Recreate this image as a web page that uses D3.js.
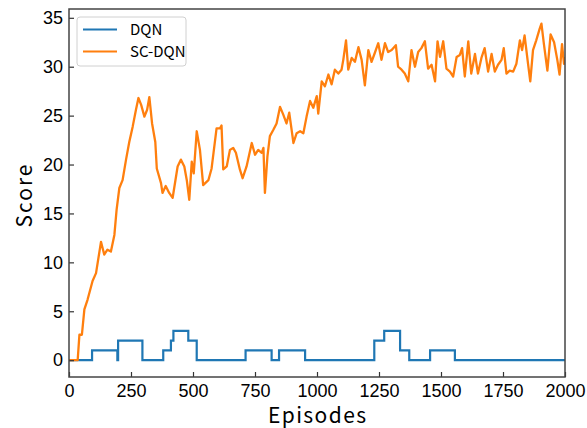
<!DOCTYPE html>
<html>
<head>
<meta charset="utf-8">
<script src="https://cdn.jsdelivr.net/npm/d3@7/dist/d3.min.js"></script>
<style>
	body { margin: 0; background: #fff; }
	.c-score__tick text { font-family: "Liberation Sans", Arial, sans-serif; font-size: 18px; fill: #000; }
	.c-score__label { font-family: "Noto Sans CJK SC", "Liberation Sans", sans-serif; fill: #000; }
	.c-score__legend { font-family: "Noto Sans CJK SC", "DejaVu Sans Mono", monospace; font-size: 15px; fill: #000; }
</style>
</head>
<body>
<svg id="chart" width="587" height="428"></svg>
<script>
//DQN scores, step changes (episode where the value starts)
var dqnEpisodes = [0, 93, 195, 198, 296, 380, 411, 421, 481, 515, 712, 817, 847, 952, 1231, 1271, 1335, 1372, 1456, 1556, 2000];
var dqnValues   = [0, 1, 0, 2, 0, 1, 2, 3, 2, 0, 1, 0, 1, 0, 2, 3, 1, 0, 1, 0, 0];

//SC-DQN scores
var scEpisodes = [0, 35, 42, 52, 62, 75, 95, 109, 129, 142, 155, 169, 183, 192, 203, 216, 230, 243, 257, 270,
	280, 291, 304, 315, 324, 335, 348, 354, 371, 377, 390, 404, 418, 438, 451, 465, 475, 485, 495, 503,
	515, 528, 541, 562, 575, 595, 609, 615, 622, 636, 649, 662, 673, 689, 700, 716, 737, 750, 763, 777,
	784, 790, 800, 810, 823, 837, 851, 864, 877, 888, 905, 918, 932, 945, 958, 972, 985, 999, 1005, 1019,
	1032, 1046, 1059, 1072, 1086, 1099, 1106, 1117, 1126, 1140, 1153, 1167, 1180, 1193, 1207, 1220, 1233, 1247, 1260, 1274,
	1287, 1301, 1318, 1327, 1341, 1354, 1368, 1381, 1395, 1408, 1421, 1435, 1448, 1462, 1476, 1486, 1496, 1509, 1522, 1536,
	1549, 1563, 1576, 1585, 1596, 1610, 1622, 1637, 1649, 1663, 1676, 1690, 1704, 1717, 1730, 1744, 1753, 1764, 1777, 1791,
	1804, 1818, 1827, 1837, 1851, 1860, 1871, 1884, 1898, 1905, 1915, 1929, 1942, 1956, 1969, 1978, 1988, 1996, 2000];
var scValues = [0, 0, 2.6, 2.6, 5.2, 6.2, 8.1, 8.9, 12.1, 10.8, 11.3, 11.1, 12.8, 15.4, 17.6, 18.4, 20.5, 22.3, 23.9, 25.6,
	26.8, 26.1, 24.9, 25.6, 26.9, 24.2, 22.3, 19.6, 18.1, 17.1, 17.8, 17.1, 16.6, 19.8, 20.5, 19.8, 18.4, 16.4, 20.3, 19.1,
	23.4, 21.5, 17.9, 18.4, 19.6, 23.7, 23.7, 24.0, 19.5, 19.8, 21.5, 21.7, 21.2, 19.5, 18.6, 19.8, 22.2, 21.0, 21.5, 21.2,
	21.7, 17.1, 20.8, 22.9, 23.5, 24.2, 25.9, 25.1, 24.2, 25.3, 22.2, 23.2, 23.4, 23.2, 24.9, 26.5, 25.8, 27.0, 25.2, 28.5,
	28.0, 29.2, 28.2, 29.7, 29.3, 29.7, 30.7, 32.7, 29.7, 30.9, 30.5, 32.0, 30.7, 28.1, 31.7, 30.5, 31.4, 32.4, 30.7, 32.4,
	31.5, 31.7, 32.2, 30.0, 29.7, 29.3, 28.5, 31.7, 30.0, 31.5, 31.9, 32.6, 29.8, 30.2, 28.5, 32.6, 31.0, 32.6, 29.8, 29.5,
	29.0, 31.0, 31.2, 31.9, 29.0, 32.6, 29.3, 31.3, 29.3, 30.9, 31.9, 29.5, 31.3, 29.5, 30.2, 30.7, 31.9, 29.3, 29.6, 29.5,
	30.3, 32.7, 31.7, 33.2, 30.3, 28.5, 31.7, 32.7, 33.9, 34.4, 32.3, 29.6, 33.3, 32.5, 30.7, 29.2, 32.3, 30.3, 31.0];

var xTicks = [0, 250, 500, 750, 1000, 1250, 1500, 1750, 2000];
var yTicks = [0, 5, 10, 15, 20, 25, 30, 35];
var seriesNames = ["DQN", "SC-DQN"];
var seriesColors = ["#1f77b4", "#ff7f0e"];

var classPrefix = "c-score";
var svg = d3.select("#chart");
var margin = {top: 9, right: 22, bottom: 51, left: 69};
var width = 587 - margin.left - margin.right,
	height = 428 - margin.top - margin.bottom;

var x = d3.scaleLinear().domain([0, 2000]).range([0, width]);
var y = d3.scaleLinear().domain([-1.72, 35.9]).range([height, 0]);

var g = svg.append("g")
	.attr("transform", "translate(" + margin.left + "," + margin.top + ")");

//Clip the lines to the plot area
g.append("clipPath").attr("id", "plot-clip")
	.append("rect").attr("width", width).attr("height", height);

//Lines
var dqnLine = d3.line()
	.curve(d3.curveStepAfter)
	.x(function(d){ return x(d[0]); })
	.y(function(d){ return y(d[1]); });

var scLine = d3.line()
	.x(function(d){ return x(d[0]); })
	.y(function(d){ return y(d[1]); });

g.append("path")
	.datum(d3.zip(dqnEpisodes, dqnValues))
	.attr("clip-path", "url(#plot-clip)")
	.attr("fill", "none")
	.attr("stroke", seriesColors[0])
	.attr("stroke-width", 2.2)
	.attr("d", dqnLine);

g.append("path")
	.datum(d3.zip(scEpisodes, scValues))
	.attr("clip-path", "url(#plot-clip)")
	.attr("fill", "none")
	.attr("stroke", seriesColors[1])
	.attr("stroke-width", 2.3)
	.attr("stroke-linejoin", "round")
	.attr("d", scLine);

//Axes, ticks pointing inward
var xAxis = g.append("g")
	.attr("class", classPrefix + "__tick")
	.attr("transform", "translate(0," + height + ")")
	.call(d3.axisBottom(x).tickValues(xTicks).tickSize(-5).tickPadding(7).tickFormat(d3.format("d")));

var yAxis = g.append("g")
	.attr("class", classPrefix + "__tick")
	.call(d3.axisLeft(y).tickValues(yTicks).tickSize(-5).tickPadding(6).tickFormat(d3.format("d")));

[xAxis, yAxis].forEach(function(a){
	a.select(".domain").remove();
	a.selectAll("line").attr("stroke", "#333").attr("stroke-width", 1.2);
});

//Frame
g.append("rect")
	.attr("width", width)
	.attr("height", height)
	.attr("fill", "none")
	.attr("stroke", "#444")
	.attr("stroke-width", 1.5);

//Axis labels
svg.append("text")
	.attr("class", classPrefix + "__label")
	.attr("text-anchor", "middle")
	.attr("x", margin.left + width / 2)
	.attr("y", 423)
	.attr("font-size", 21)
	.attr("textLength", 98)
	.attr("lengthAdjust", "spacing")
	.text("Episodes");

svg.append("text")
	.attr("class", classPrefix + "__label")
	.attr("text-anchor", "middle")
	.attr("transform", "translate(32," + (margin.top + height / 2 + 3) + ") rotate(-90)")
	.attr("font-size", 21)
	.attr("textLength", 63)
	.attr("lengthAdjust", "spacing")
	.text("Score");

//Legend
var legend = svg.append("g").attr("transform", "translate(77,17)");
legend.append("rect")
	.attr("width", 109)
	.attr("height", 49)
	.attr("rx", 3)
	.attr("fill", "#fff")
	.attr("fill-opacity", 0.8)
	.attr("stroke", "#d0d0d0");

seriesNames.forEach(function(name, i){
	var ly = 12.5 + i * 22;
	legend.append("line")
		.attr("x1", 6).attr("x2", 40)
		.attr("y1", ly).attr("y2", ly)
		.attr("stroke", seriesColors[i])
		.attr("stroke-width", 2);
	legend.append("text")
		.attr("class", classPrefix + "__legend")
		.attr("x", 53)
		.attr("y", ly + 5.5)
		.text(name);
});
</script>
</body>
</html>
